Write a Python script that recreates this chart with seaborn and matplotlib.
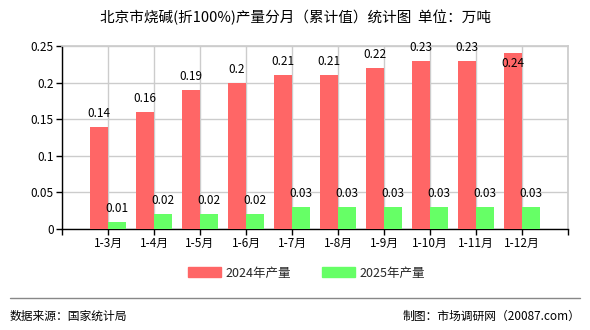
import matplotlib
matplotlib.use("Agg")
import matplotlib.pyplot as plt
import seaborn as sns
import pandas as pd
from matplotlib.lines import Line2D

months = ["1-3月", "1-4月", "1-5月", "1-6月", "1-7月", "1-8月", "1-9月", "1-10月", "1-11月", "1-12月"]
v2024 = [0.14, 0.16, 0.19, 0.2, 0.21, 0.21, 0.22, 0.23, 0.23, 0.24]
v2025 = [0.01, 0.02, 0.02, 0.02, 0.03, 0.03, 0.03, 0.03, 0.03, 0.03]
series = ["2024年产量", "2025年产量"]
yticks = [0, 0.05, 0.1, 0.15, 0.2, 0.25]
ytick_labels = ["0", "0.05", "0.1", "0.15", "0.2", "0.25"]

sns.set_theme(style="white")
plt.rcParams['font.family'] = ['Noto Sans CJK SC', 'DejaVu Sans']

df = pd.DataFrame({
    "month": months * 2,
    "value": v2024 + v2025,
    "series": [series[0]] * len(months) + [series[1]] * len(months),
})

fig = plt.figure(figsize=(5.9, 3.3), dpi=100)
ax = fig.add_axes([62/590, 1-229/330, (568-62)/590, (229-46)/330])

sns.barplot(data=df, x="month", y="value", hue="series", order=months, hue_order=series,
            palette=["#FF6666", "#66FF66"], width=0.78, saturation=1, ax=ax, legend=False,
            linewidth=0, edgecolor="none", zorder=3)

ax.set_xlim(-1, len(months))
ax.set_ylim(0, 0.25)
ax.set_yticks(yticks)
ax.set_yticklabels(ytick_labels, fontsize=8.5)
ax.set_xticks(list(range(-1, len(months) + 1)))
ax.set_xticklabels([""] + months + [""], fontsize=8.5)
ax.set_xlabel("")
ax.set_ylabel("")
ax.grid(True, color="#cccccc", linewidth=1, zorder=0)
ax.tick_params(axis="both", length=4, width=1, color="black", pad=2, labelcolor="black")
ax.tick_params(axis="y", left=True)
ax.tick_params(axis="x", bottom=True)
for s in ["top", "right"]:
    ax.spines[s].set_color("#cccccc")
for s in ["left", "bottom"]:
    ax.spines[s].set_color("black")
    ax.spines[s].set_linewidth(1)

ymax = 0.25
for cont in ax.containers:
    for p in cont.patches:
        h = p.get_height()
        xc = p.get_x() + p.get_width() / 2
        lab = f"{h:g}"
        if h + 0.015 > ymax:
            ax.annotate(lab, (xc, h), xytext=(0, -3), textcoords="offset points",
                        ha="center", va="top", fontsize=8.5, color="black", zorder=5)
        else:
            ax.annotate(lab, (xc, h), xytext=(0, 5), textcoords="offset points",
                        ha="center", va="bottom", fontsize=8.5, color="black", zorder=5)

fig.text(0.5, 1 - 17/330, "北京市烧碱(折100%)产量分月（累计值）统计图  单位：万吨",
         ha="center", va="center", fontsize=10.5, color="black")

handles = [plt.Rectangle((0, 0), 1, 1, color="#FF6666"), plt.Rectangle((0, 0), 1, 1, color="#66FF66")]
fig.legend(handles, series, loc="center", bbox_to_anchor=(0.52, 1 - 273/330), ncol=2,
           frameon=False, fontsize=9, handlelength=2.6, handleheight=0.9, columnspacing=2.5,
           handletextpad=0.4)

fig.add_artist(Line2D([10/590, 580/590], [1 - 298/330, 1 - 298/330], color="#888888", linewidth=1))
fig.text(10/590, 1 - 316/330, "数据来源：国家统计局", ha="left", va="center", fontsize=8.5, color="black")
fig.text(580/590, 1 - 316/330, "制图：市场调研网（20087.com）", ha="right", va="center", fontsize=8.5, color="black")

fig.savefig("out.png", dpi=100, facecolor="white")
